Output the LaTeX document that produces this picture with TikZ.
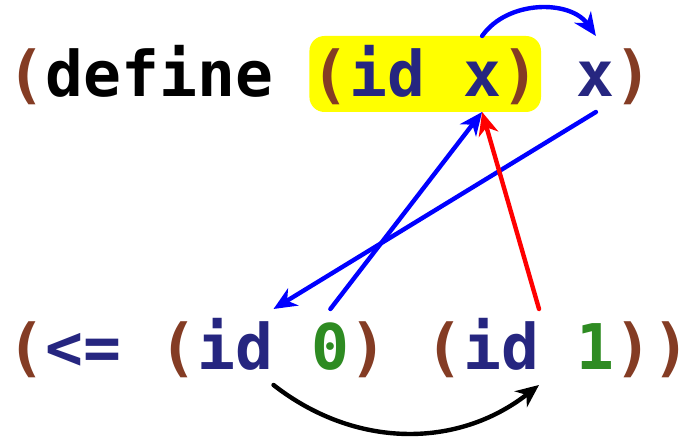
\documentclass[tikz,border=0pt]{standalone}
\usepackage{fontspec}
\usepackage{xcolor}
\setmonofont{DejaVu Sans Mono}
\usetikzlibrary{arrows.meta,positioning,fit,backgrounds}
\definecolor{ParenBrown}{HTML}{843C24}
\definecolor{NameNavy}{HTML}{262680}
\definecolor{ConstGreen}{HTML}{2E8B22}
\definecolor{MarkYellow}{HTML}{FFFF00}
\newlength{\cw}
\setlength{\cw}{37.93pt}

\begin{document}
\begin{tikzpicture}[
  x=1pt, y=1pt,
  tok/.style={inner sep=0pt, outer sep=0pt, text height=61pt, text depth=15pt, text=NameNavy, font=\ttfamily\bfseries\fontsize{63}{63}\selectfont},
  hilite/.style={fill=MarkYellow, rounded corners=15pt, inner xsep=2pt, inner ysep=0pt},
  link/.style={line width=4.4pt, line cap=round, -{Stealth[length=23pt, width=20pt, inset=7pt]}}
]
\useasboundingbox (0,0) rectangle (686,438);
\node[tok, anchor=base west] (head) at (8,341) {\textcolor{ParenBrown}{(}\textcolor{black}{define}};
\node[tok, right=\cw of head] (callopen) {\textcolor{ParenBrown}{(}id};
\node[tok, right=\cw of callopen] (argx) {x};
\node[tok, right=0pt of argx, text=ParenBrown] (callclose) {)};
\node[tok, right=\cw of callclose] (bodyx) {x};
\node[tok, right=0pt of bodyx, text=ParenBrown] (close) {)};
\begin{scope}[on background layer]
  \node[hilite, fit=(callopen)(callclose)] (call) {};
\end{scope}
\node[tok, anchor=base west] (cmp) at (8,68) {\textcolor{ParenBrown}{(}<=};
\node[tok, right=\cw of cmp] (lid) {\textcolor{ParenBrown}{(}id};
\node[tok, right=\cw of lid, text=ConstGreen] (zero) {0};
\node[tok, right=0pt of zero, text=ParenBrown] (lclose) {)};
\node[tok, right=\cw of lclose] (rid) {\textcolor{ParenBrown}{(}id};
\node[tok, right=\cw of rid, text=ConstGreen] (one) {1};
\node[tok, right=0pt of one, text=ParenBrown] (rclose) {))};
\draw[link, blue] (argx.north) to[bend left=55] (bodyx.north);
\draw[link, blue] (bodyx.south) -- (lid.north east);
\draw[link, blue] (zero.north) -- (argx.south);
\draw[link, red] (rid.north east) -- (argx.south);
\draw[link, black] (lid.south east) to[bend right=38] (rid.south east);
\end{tikzpicture}
\end{document}
